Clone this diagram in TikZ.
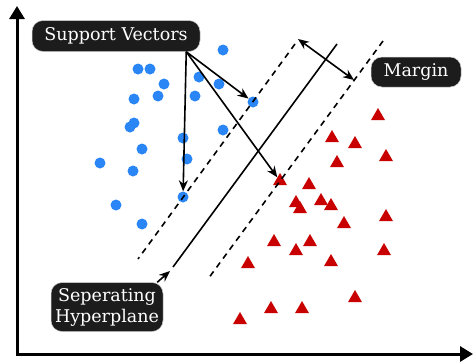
\documentclass[tikz,border=0pt]{standalone}
\usepackage{fontspec}
\setmainfont{DejaVu Serif}
\usetikzlibrary{arrows.meta,shapes.geometric}
\definecolor{ptblue}{RGB}{42,134,245}
\definecolor{ptred}{RGB}{200,0,0}
\definecolor{tagbg}{RGB}{28,28,28}
\begin{document}
\begin{tikzpicture}[x=1pt,y=-1pt,
  bdot/.style={circle,fill=ptblue,inner sep=0,minimum size=11pt},
  rtri/.style={regular polygon,regular polygon sides=3,fill=ptred,inner sep=0,minimum size=16pt},
  tag/.style={fill=tagbg,draw=gray!40,line width=0.5pt,rounded corners=11pt,text=white,
    font=\fontsize{17.5}{21}\selectfont,align=center,inner sep=0},
  axis/.style={line width=3pt,line join=miter,
    {Triangle[length=13pt,width=15pt]}-{Triangle[length=13pt,width=15pt]}},
  pointer/.style={line width=1.6pt,-{Stealth[length=11pt,width=9pt]}},
  guide/.style={line width=1.6pt,dash pattern=on 6pt off 5pt},
]
\useasboundingbox (0,0) rectangle (473,362);

% axes
\coordinate (ytip) at (17,6);
\coordinate (o) at (17,354);
\coordinate (xtip) at (473,354);
\draw[axis] (ytip) -- (o) -- (xtip);

% class A
\node[bdot] (b1) at (223,50) {};
\node[bdot] (b2) at (138,69) {};
\node[bdot] (b3) at (150,69) {};
\node[bdot] (b4) at (199,77) {};
\node[bdot] (b5) at (219,84) {};
\node[bdot] (b6) at (164,84) {};
\node[bdot] (b7) at (158,96) {};
\node[bdot] (b8) at (195,96) {};
\node[bdot] (b9) at (134,99) {};
\node[bdot] (b10) at (134,123) {};
\node[bdot] (b11) at (130,127) {};
\node[bdot] (b12) at (223,130) {};
\node[bdot] (b13) at (183,138) {};
\node[bdot] (b14) at (142,149) {};
\node[bdot] (b15) at (187,159) {};
\node[bdot] (b16) at (100,163) {};
\node[bdot] (b17) at (133,171) {};
\node[bdot] (b18) at (253,102) {};
\node[bdot] (b19) at (116,205) {};
\node[bdot] (b20) at (142,224) {};
\node[bdot] (b21) at (183,197) {};

% class B
\node[rtri] (r1) at (378,116) {};
\node[rtri] (r2) at (332,138) {};
\node[rtri] (r3) at (355,144) {};
\node[rtri] (r4) at (337,163) {};
\node[rtri] (r5) at (386,157) {};
\node[rtri] (r6) at (280,181) {};
\node[rtri] (r7) at (309,185) {};
\node[rtri] (r8) at (296,203) {};
\node[rtri] (r9) at (300,209) {};
\node[rtri] (r10) at (321,201) {};
\node[rtri] (r11) at (331,206) {};
\node[rtri] (r12) at (386,217) {};
\node[rtri] (r13) at (344,224) {};
\node[rtri] (r14) at (274,242) {};
\node[rtri] (r15) at (310,242) {};
\node[rtri] (r16) at (296,251) {};
\node[rtri] (r17) at (384,251) {};
\node[rtri] (r18) at (331,262) {};
\node[rtri] (r19) at (248,264) {};
\node[rtri] (r20) at (355,298) {};
\node[rtri] (r21) at (271,309) {};
\node[rtri] (r22) at (302,309) {};
\node[rtri] (r23) at (240,320) {};

% hyperplane and margins
\coordinate (h1) at (337,44);
\coordinate (h2) at (173,267);
\coordinate (u1) at (295,44);
\coordinate (u2) at (138,259);
\coordinate (l1) at (383,41);
\coordinate (l2) at (208,279);
\draw[line width=1.6pt] (h1) -- (h2);
\draw[guide] (u1) -- (u2);
\draw[guide] (l1) -- (l2);

\coordinate (m1) at (298,39);
\coordinate (m2) at (354,80);
\draw[line width=1.6pt,{Stealth[length=11pt,width=9pt]}-{Stealth[length=11pt,width=9pt]}] (m1) -- (m2);

% labels
\node[tag,minimum width=168pt,minimum height=31pt] (sv) at (116,36) {Support Vectors};
\node[tag,minimum width=90pt,minimum height=30pt] (mg) at (416,72) {Margin};
\node[tag,minimum width=112pt,minimum height=49pt] (sh) at (107,307) {Seperating\\Hyperplane};

% pointers
\coordinate (svc) at ([xshift=-14pt]sv.south east);
\draw[pointer] (svc) -- (b21);
\draw[pointer] (svc) -- (b18);
\draw[pointer] (svc) -- (r6);
\coordinate (shc) at ([xshift=-6pt]sh.north east);
\coordinate (ht) at (170,271);
\draw[pointer] (shc) -- (ht);
\end{tikzpicture}
\end{document}
